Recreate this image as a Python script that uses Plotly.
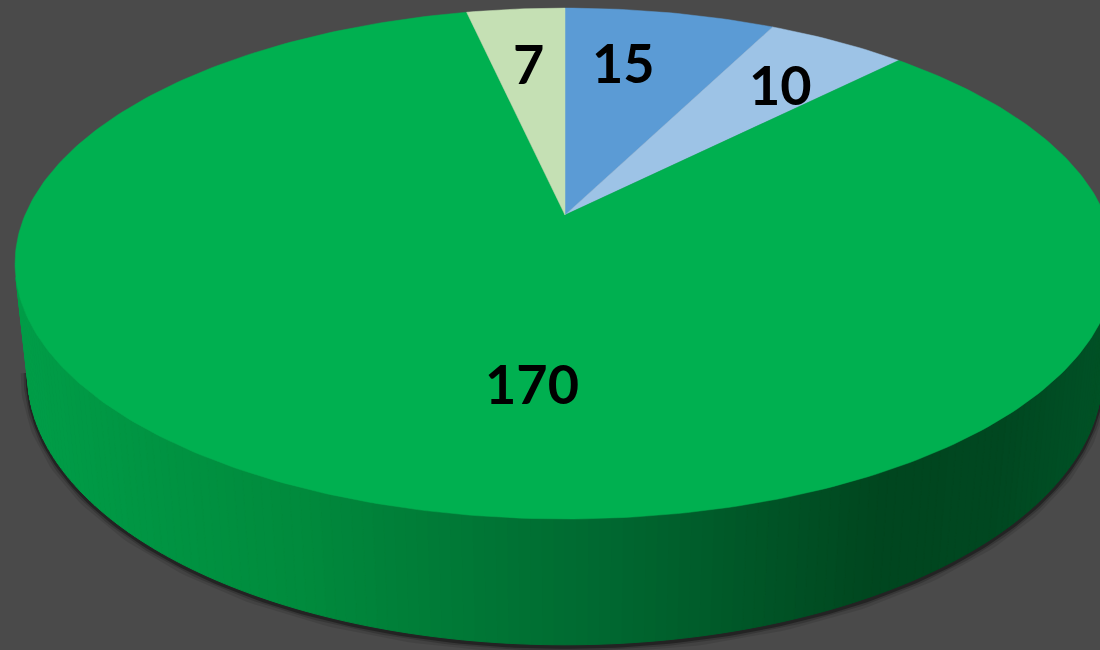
import numpy as np
import plotly.graph_objects as go

# ---- data ----
values = [15, 10, 170, 7]
labels = ["15", "10", "170", "7"]
colors = ["#5B9BD5", "#9DC3E6", "#00B050", "#C5E0B4"]

# ---- style / camera constants ----
W, H = 1100, 650
CX, CY = 565, 215          # screen position of pie centre
F = 2529.0                 # focal scale
R = 0.2135                 # pie radius (world units)
DEPTH = 0.0496             # pie thickness
S, C = 0.456, 0.89         # sin/cos of tilt
DIST = 1.0
LABEL_R = 0.7
LABEL_NUDGE = {"15": (-19, -4), "10": (17, -4), "170": (68, 9), "7": (0, 0)}
# side shading stops: (screen x, r, g, b)
SIDE_STOPS = [(20, 0, 158, 72), (300, 0, 139, 61), (620, 0, 103, 48),
              (880, 0, 70, 31), (1000, 0, 72, 33), (1100, 0, 82, 38)]


def proj(x, y, z):
    v = y * S + z * C
    w = y * C - z * S
    sx = CX + F * x / (DIST + w)
    sy = CY - F * v / (DIST + w)
    return sx, sy


def side_color(sx):
    xs = [s[0] for s in SIDE_STOPS]
    rgb = [int(np.interp(sx, xs, [s[k] for s in SIDE_STOPS])) for k in (1, 2, 3)]
    return "rgb(%d,%d,%d)" % tuple(rgb)


total = sum(values)
bounds = np.concatenate([[0], np.cumsum(values)]) / total * 2 * np.pi

fig = go.Figure()

# shadow under the pie
th = np.linspace(np.radians(100), np.radians(260), 200)
bx, by = proj(R * np.sin(th), R * np.cos(th), -DEPTH * np.ones_like(th))
for wdt, a in [(14, 0.10), (8, 0.18), (4, 0.35)]:
    fig.add_trace(go.Scatter(x=bx, y=by + 2, mode="lines",
                             line=dict(color=f"rgba(0,0,0,{a})", width=wdt),
                             hoverinfo="skip", showlegend=False))

# side wall (front-facing part only)
step = np.radians(1.0)
angles = np.arange(np.radians(90), np.radians(270) + step, step)
for t0, t1 in zip(angles[:-1], angles[1:]):
    tm = 0.5 * (t0 + t1)
    if -R - DIST * C * np.cos(tm) <= 0:
        continue
    xs, ys = [], []
    for t, z in [(t0, 0), (t1, 0), (t1, -DEPTH), (t0, -DEPTH)]:
        px, py = proj(R * np.sin(t), R * np.cos(t), z)
        xs.append(px)
        ys.append(py)
    cstr = side_color(np.mean(xs))
    fig.add_trace(go.Scatter(x=xs + [xs[0]], y=ys + [ys[0]], mode="lines",
                             fill="toself", fillcolor=cstr,
                             line=dict(color=cstr, width=1),
                             hoverinfo="skip", showlegend=False))

# top face slices
for i, (v, col) in enumerate(zip(values, colors)):
    t = np.linspace(bounds[i], bounds[i + 1], max(8, int(v / total * 400)))
    px, py = proj(R * np.sin(t), R * np.cos(t), np.zeros_like(t))
    xs = np.concatenate([[CX], px, [CX]])
    ys = np.concatenate([[CY], py, [CY]])
    fig.add_trace(go.Scatter(x=xs, y=ys, mode="lines", fill="toself",
                             fillcolor=col, line=dict(color=col, width=0.5),
                             hoverinfo="skip", showlegend=False))

# labels
for i, lab in enumerate(labels):
    tm = 0.5 * (bounds[i] + bounds[i + 1])
    r = LABEL_R if values[i] / total < 0.5 else 0.6
    lx, ly = proj(r * R * np.sin(tm), r * R * np.cos(tm), 0)
    nx, ny = LABEL_NUDGE[lab]
    fig.add_annotation(x=lx + nx, y=ly + ny, text="<b>%s</b>" % lab,
                       showarrow=False,
                       font=dict(family="Lato", size=54, color="black"),
                       xanchor="center", yanchor="middle")

fig.update_layout(
    width=W, height=H,
    margin=dict(l=0, r=0, t=0, b=0),
    paper_bgcolor="#4a4a4a", plot_bgcolor="#4a4a4a",
    xaxis=dict(range=[0, W], visible=False, fixedrange=True),
    yaxis=dict(range=[H, 0], visible=False, fixedrange=True),
    showlegend=False,
)

fig.write_html("out.html",
               config={"displayModeBar": False},
               post_script="document.body.style.margin='0';"
                           "document.body.style.overflow='hidden';"
                           "document.body.style.background='#4a4a4a';")
